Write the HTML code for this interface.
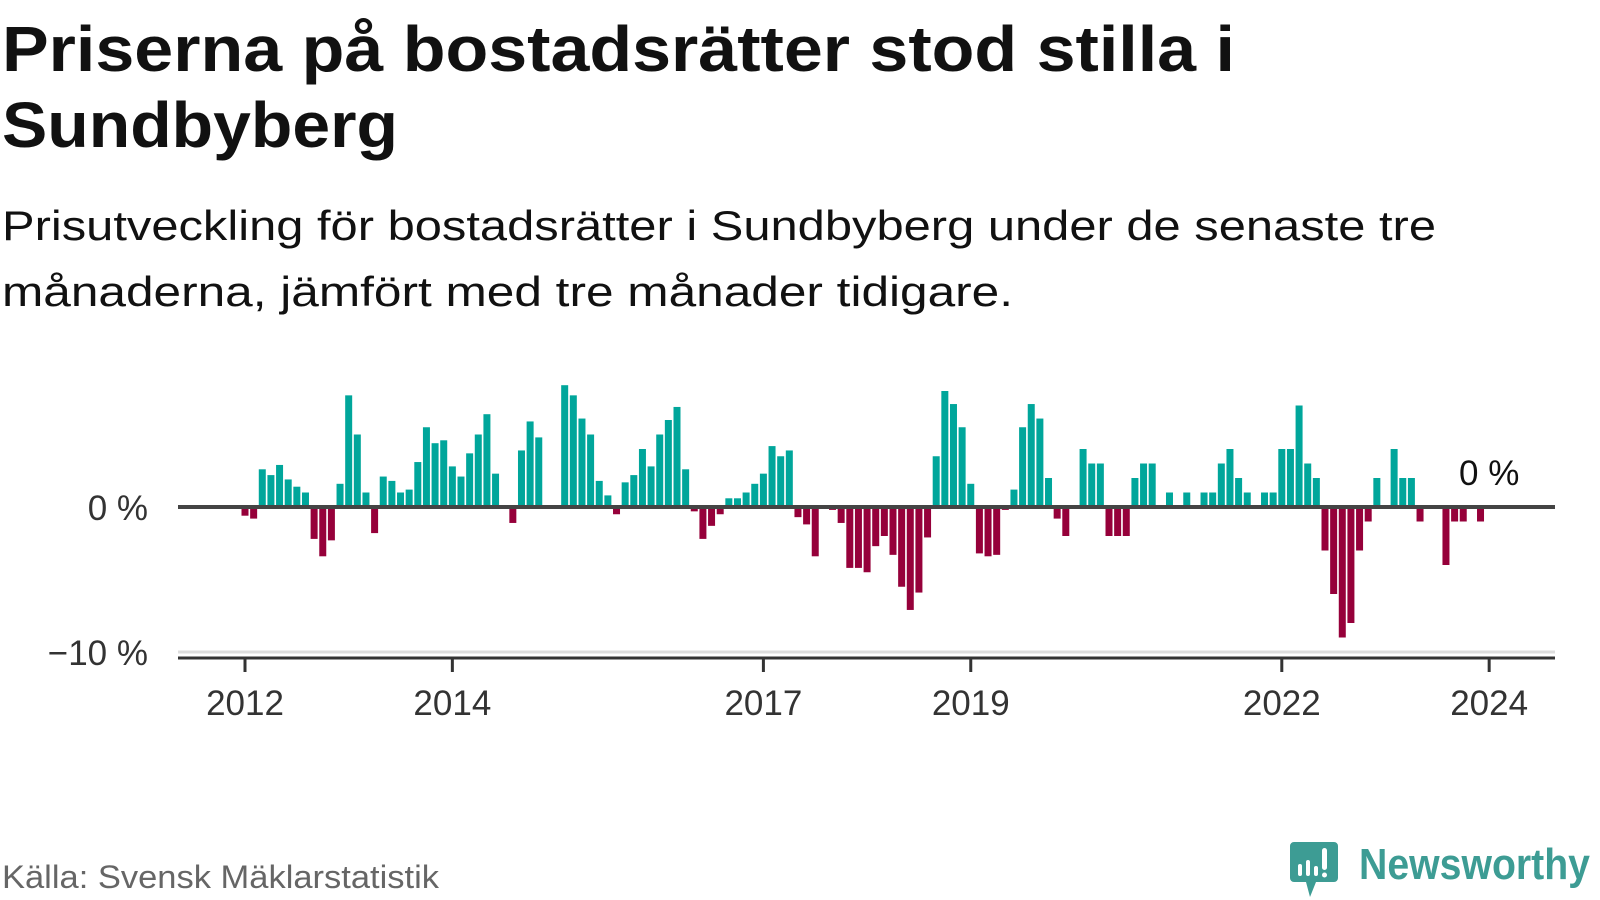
<!DOCTYPE html>
<html>
<head>
<meta charset="utf-8">
<style>
  html,body{margin:0;padding:0;background:#fff;}
  svg{display:block;}
  text{font-family:"Liberation Sans", sans-serif;}
</style>
</head>
<body>
<svg id="chart" width="1600" height="900" viewBox="0 0 1600 900" xmlns="http://www.w3.org/2000/svg">
  <text x="2" y="71" font-size="64" font-weight="bold" fill="#111" textLength="1233" lengthAdjust="spacingAndGlyphs">Priserna på bostadsrätter stod stilla i</text>
  <text x="2" y="147" font-size="64" font-weight="bold" fill="#111" textLength="396" lengthAdjust="spacingAndGlyphs">Sundbyberg</text>
  <text x="2" y="240" font-size="42" fill="#111" textLength="1434" lengthAdjust="spacingAndGlyphs">Prisutveckling för bostadsrätter i Sundbyberg under de senaste tre</text>
  <text x="2" y="306" font-size="42" fill="#111" textLength="1011" lengthAdjust="spacingAndGlyphs">månaderna, jämfört med tre månader tidigare.</text>

  <g id="plot"></g>

  <text x="2" y="888" font-size="32" fill="#666" textLength="437" lengthAdjust="spacingAndGlyphs">Källa: Svensk Mäklarstatistik</text>

  <g>
    <path d="M1294,842 h40 a4,4 0 0 1 4,4 v32 a4,4 0 0 1 -4,4 h-18 l-6,15 l-4,-15 h-12 a4,4 0 0 1 -4,-4 v-32 a4,4 0 0 1 4,-4z" fill="#3d9c94"/>
    <rect x="1298" y="864" width="4" height="12" rx="2" fill="#fff"/>
    <rect x="1306" y="860" width="4" height="16" rx="2" fill="#fff"/>
    <rect x="1314" y="866" width="4" height="10" rx="2" fill="#fff"/>
    <rect x="1322" y="848" width="5" height="22" rx="2.5" fill="#fff"/>
    <circle cx="1324.5" cy="875" r="2.5" fill="#fff"/>
    <text x="1359" y="879" font-size="44" font-weight="bold" fill="#3d9c94" textLength="231" lengthAdjust="spacingAndGlyphs">Newsworthy</text>
  </g>
</svg>
<script>
const values = [
  -0.6,-0.8,2.6,2.2,2.9,1.9,1.4,1.0,-2.2,-3.4,-2.3,1.6,
  7.7,5.0,1.0,-1.8,2.1,1.8,1.0,1.2,3.1,5.5,4.4,4.6,
  2.8,2.1,3.7,5.0,6.4,2.3,0,-1.1,3.9,5.9,4.8,0,
  -0.1,8.4,7.7,6.1,5.0,1.8,0.8,-0.5,1.7,2.2,4.0,2.8,
  5.0,6.0,6.9,2.6,-0.3,-2.2,-1.3,-0.5,0.6,0.6,1.0,1.6,
  2.3,4.2,3.5,3.9,-0.7,-1.2,-3.4,-0.1,-0.2,-1.1,-4.2,-4.2,
  -4.5,-2.7,-2.0,-3.3,-5.5,-7.1,-5.9,-2.1,3.5,8.0,7.1,5.5,
  1.6,-3.2,-3.4,-3.3,-0.2,1.2,5.5,7.1,6.1,2.0,-0.8,-2.0,
  0,4,3,3,-2,-2,-2,2,3,3,0,1,
  0,1,0,1,1,3,4,2,1,0,1,1,
  4,4,7,3,2,-3,-6,-9,-8,-3,-1,2,
  0,4,2,2,-1,0,0,-4,-1,-1,0,-1,
  0
];
const yTickValues = [0, -10];
const yTickLabels = ["0 %", "\u221210 %"];
const xTickIndex = [0, 24, 60, 84, 120, 144];
const xTickLabels = ["2012", "2014", "2017", "2019", "2022", "2024"];
const lastLabel = "0 %";

const NS = "http://www.w3.org/2000/svg";
const plot = document.getElementById("plot");
const X0 = 245, STEP = 8.64, Y0 = 507, UNIT = 14.5;
function xScale(i){ return X0 + i*STEP; }
function yScale(v){ return Y0 - v*UNIT; }
function mk(tag, attrs){ const e=document.createElementNS(NS,tag); for(const k in attrs) e.setAttribute(k, attrs[k]); plot.appendChild(e); return e; }

// gridline at -10
const g = mk("line",{x1:178,x2:1555,y1:yScale(-10),y2:yScale(-10),stroke:"#ddd","stroke-width":3});



// bars
values.forEach((v,i)=>{
  if (v === 0) return;
  const y = v>0 ? yScale(v) : Y0;
  const h = Math.abs(v)*UNIT;
  const r = mk("rect",{x:xScale(i)-3.5,y:y,width:7,height:h,fill: v>0 ? "#00a69b" : "#96003a"});
  
  
});

// zero line
const z = mk("line",{x1:178,x2:1555,y1:Y0,y2:Y0,stroke:"#444","stroke-width":4});



// bottom axis
const ax = mk("line",{x1:178,x2:1555,y1:658,y2:658,stroke:"#333","stroke-width":3});



// y tick labels
yTickValues.forEach((v,k)=>{
  const t = mk("text",{x:148,y:yScale(v)+13,"font-size":35,fill:"#333","text-anchor":"end"});
  t.textContent = yTickLabels[k];
  
  
});

// x ticks
xTickIndex.forEach((idx,k)=>{
  const x = xScale(idx);
  const tk = mk("line",{x1:x,x2:x,y1:658,y2:672,stroke:"#333","stroke-width":3});
  
  
  const t = mk("text",{x:x,y:715,"font-size":35,fill:"#333","text-anchor":"middle"});
  t.textContent = xTickLabels[k];
  
  
});

// last value label
const li = values.length-1;
const lt = mk("text",{x:xScale(li),y:yScale(values[li])-22,"font-size":35,fill:"#111","text-anchor":"middle"});
lt.textContent = lastLabel;


</script>
</body>
</html>
